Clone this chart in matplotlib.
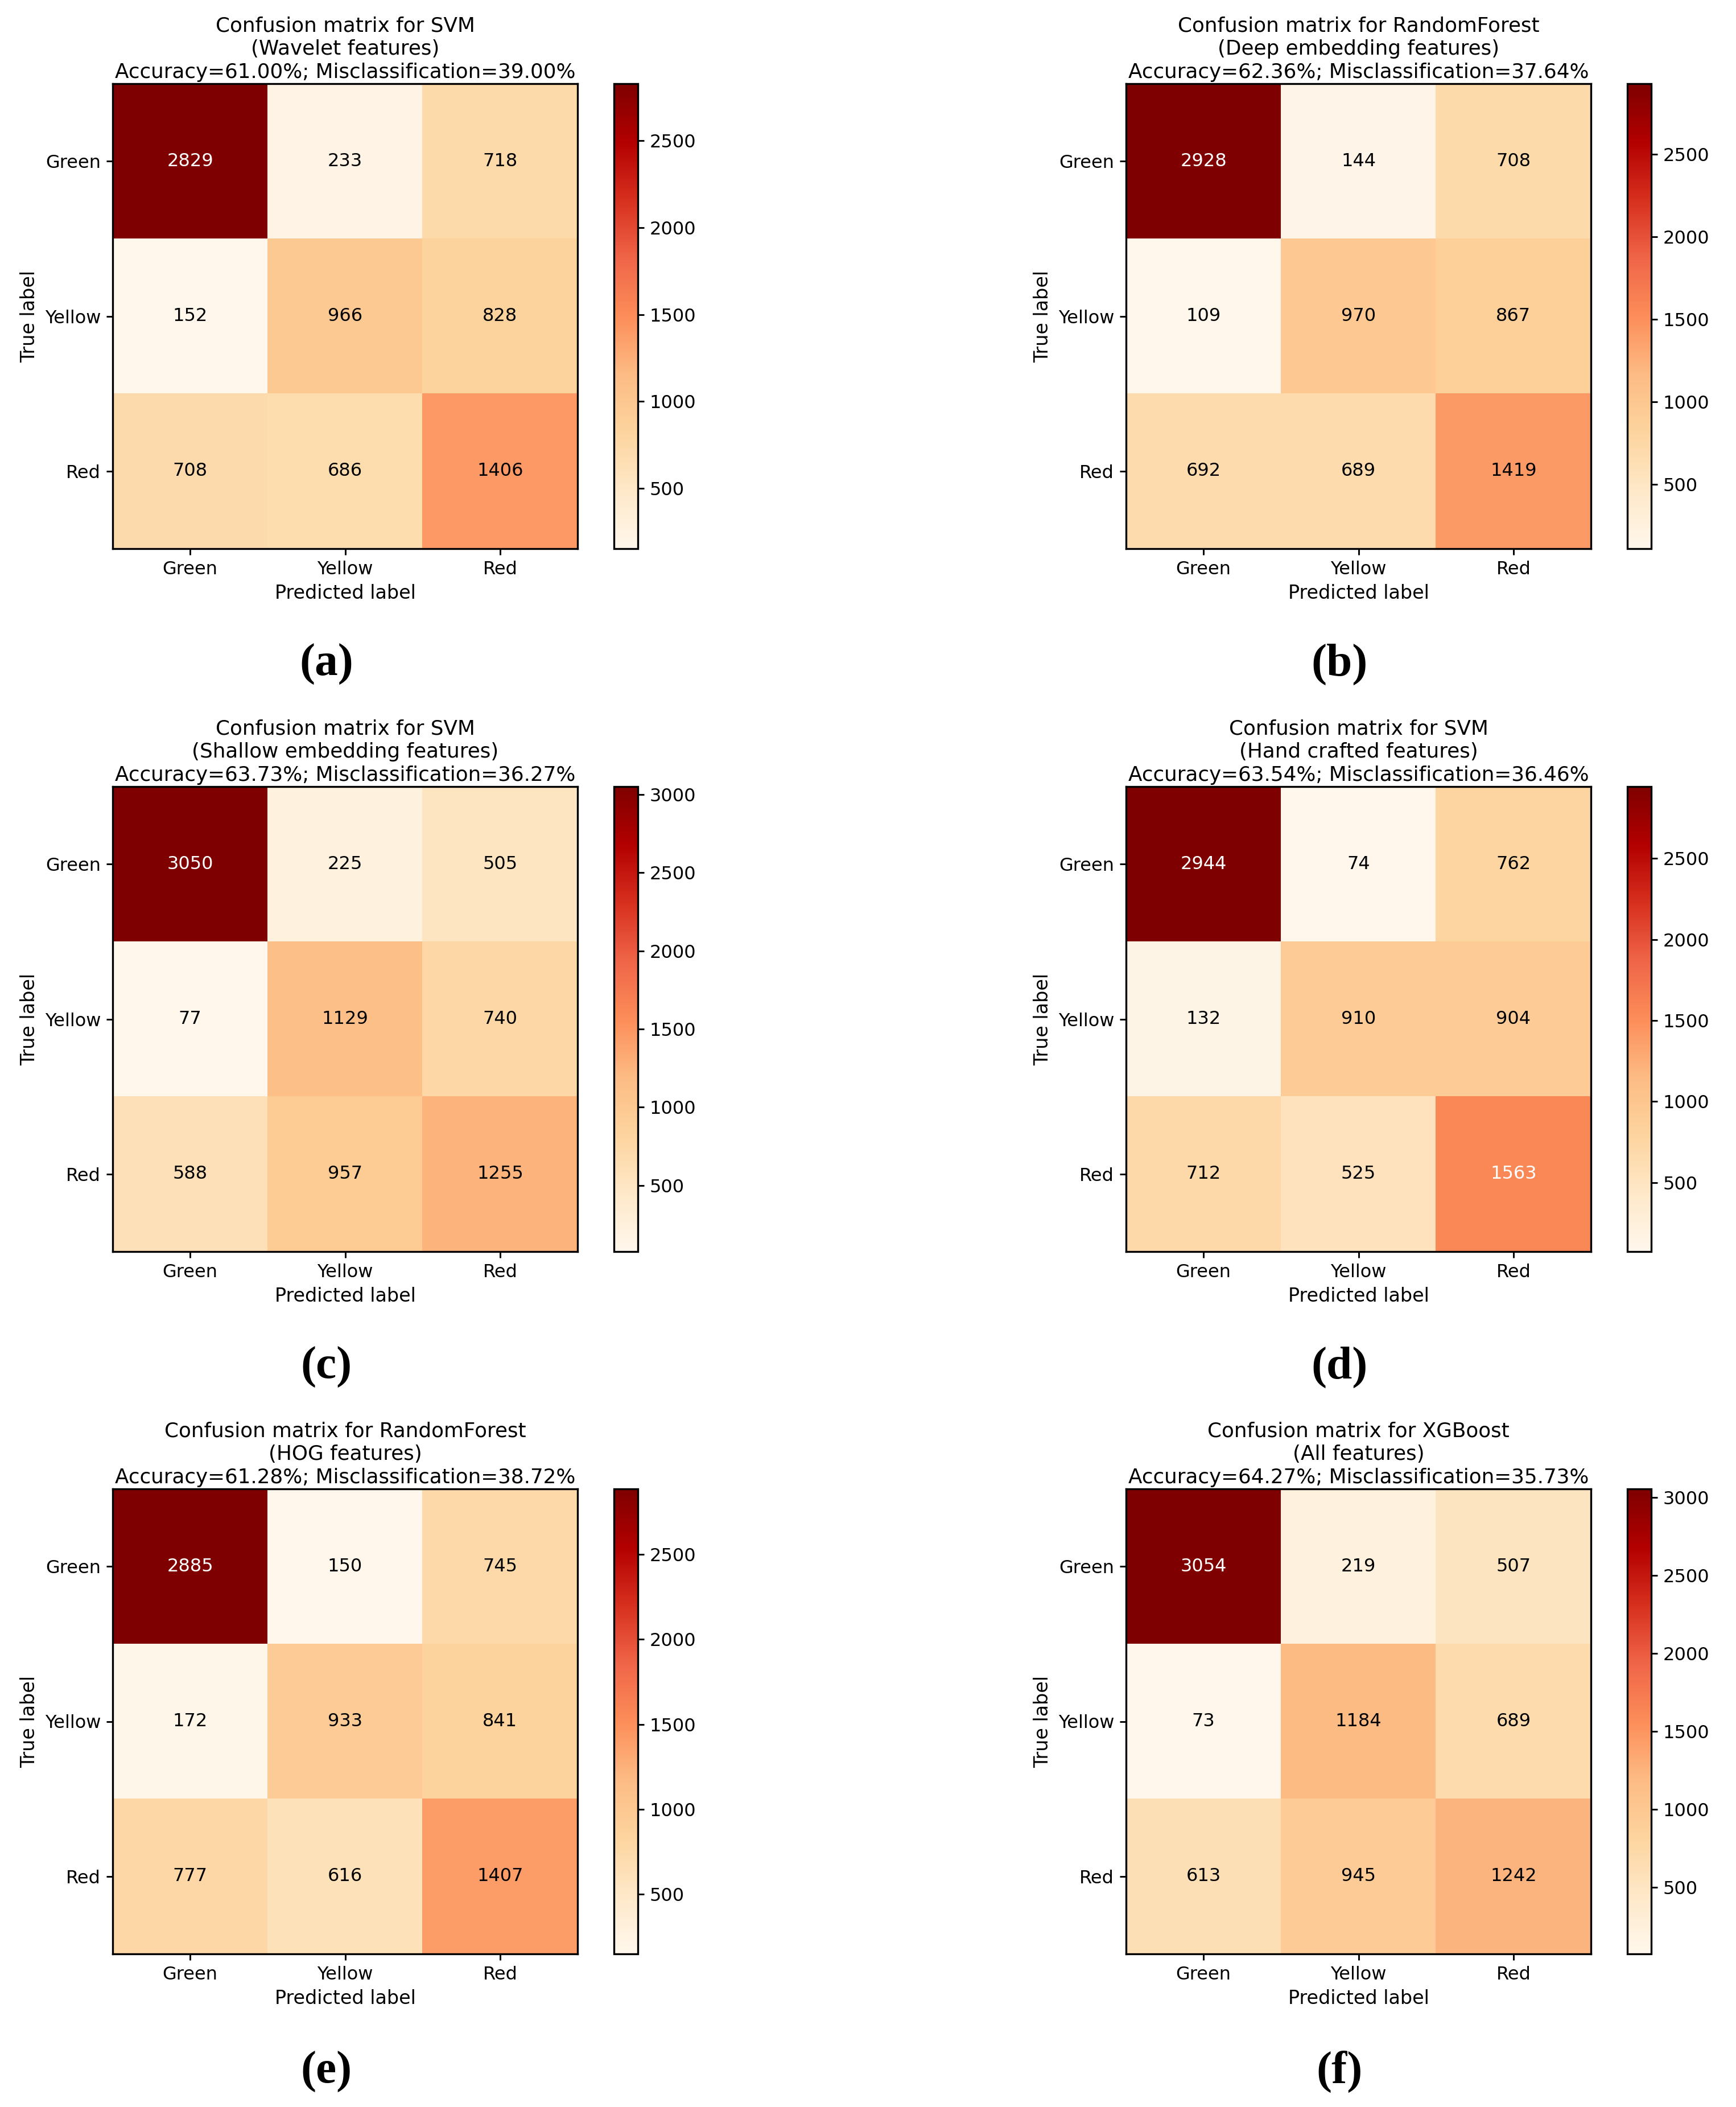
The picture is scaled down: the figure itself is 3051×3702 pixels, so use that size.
import numpy as np
import matplotlib
matplotlib.use("Agg")
import matplotlib.pyplot as plt

classes = ["Green", "Yellow", "Red"]

cm_a = [[2829, 233, 718], [152, 966, 828], [708, 686, 1406]]
cm_b = [[2928, 144, 708], [109, 970, 867], [692, 689, 1419]]
cm_c = [[3050, 225, 505], [77, 1129, 740], [588, 957, 1255]]
cm_d = [[2944, 74, 762], [132, 910, 904], [712, 525, 1563]]
cm_e = [[2885, 150, 745], [172, 933, 841], [777, 616, 1407]]
cm_f = [[3054, 219, 507], [73, 1184, 689], [613, 945, 1242]]

models = ["SVM", "RandomForest", "SVM", "SVM", "RandomForest", "XGBoost"]
features = ["Wavelet", "Deep embedding", "Shallow embedding", "Hand crafted", "HOG", "All"]
accuracy = [61.00, 62.36, 63.73, 63.54, 61.28, 64.27]
panel_letters = ["a", "b", "c", "d", "e", "f"]

matrices = [cm_a, cm_b, cm_c, cm_d, cm_e, cm_f]

W, H = 3051, 3702
fig = plt.figure(figsize=(W / 300, H / 300), dpi=300)

# pixel layout of the composite
col_ax = [(198, 1015), (1978, 2797)]
col_cb = [(1079, 1121), (2860, 2902)]
row_top = [147, 1382, 2616]
side = 817
label_x = [574, 2354]
label_y = [1167, 2402, 3640]

tick_fs = 7.7
label_fs = 8
title_fs = 8.6

for k, cm in enumerate(matrices):
    r, c = divmod(k, 2)
    cm = np.array(cm)
    x0, x1 = col_ax[c]
    top = row_top[r]
    ax = fig.add_axes([x0 / W, 1 - (top + side) / H, (x1 - x0) / W, side / H])
    im = ax.imshow(cm, cmap="OrRd", interpolation="nearest")
    thresh = (cm.max() + cm.min()) / 2
    for i in range(3):
        for j in range(3):
            ax.text(j, i, str(cm[i, j]), ha="center", va="center",
                    color="white" if cm[i, j] > thresh else "black",
                    fontsize=tick_fs)
    ax.set_xticks(range(3))
    ax.set_yticks(range(3))
    ax.set_xticklabels(classes, fontsize=tick_fs)
    ax.set_yticklabels(classes, fontsize=tick_fs)
    ax.set_xlabel("Predicted label", fontsize=label_fs, labelpad=2.5)
    ax.set_ylabel("True label", fontsize=label_fs, labelpad=2.5)
    ax.tick_params(length=2.6, width=0.7, pad=2.4)
    acc = accuracy[k]
    ax.set_title(f"Confusion matrix for {models[k]}\n({features[k]} features)\n"
                 f"Accuracy={acc:.2f}%; Misclassification={100 - acc:.2f}%",
                 fontsize=title_fs, pad=2.4, linespacing=1.25)

    cb0, cb1 = col_cb[c]
    cax = fig.add_axes([cb0 / W, 1 - (top + side) / H, (cb1 - cb0) / W, side / H])
    cb = fig.colorbar(im, cax=cax)
    cb.ax.tick_params(labelsize=tick_fs, length=2.6, width=0.7, pad=2.4)

    fig.text(label_x[c] / W, 1 - label_y[r] / H, f"({panel_letters[k]})",
             ha="center", va="center", fontsize=19.5, fontweight="bold",
             family="Liberation Serif")

fig.savefig("out.png", dpi=300)
